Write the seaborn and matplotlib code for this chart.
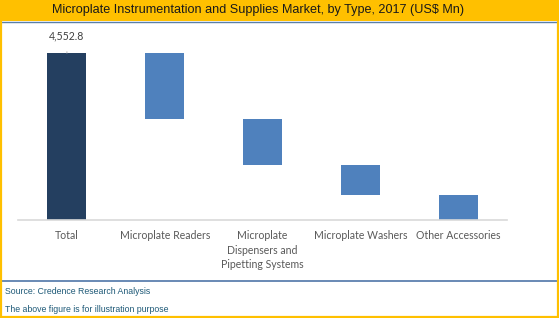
import matplotlib
matplotlib.use("Agg")
import matplotlib.pyplot as plt
from matplotlib.patches import Rectangle
from matplotlib.lines import Line2D
import seaborn as sns
import pandas as pd

# Market segments (US$ Mn, 2017)
categories = ["Total", "Microplate Readers",
              "Microplate\nDispensers and\nPipetting Systems",
              "Microplate Washers", "Other Accessories"]
segment_values = [4552.8, 1799.0, 1254.0, 818.0, 681.8]
total_label = "4,552.8"
bar_colors = ["#243F60", "#4F81BD", "#4F81BD", "#4F81BD", "#4F81BD"]

# Waterfall extents: the total runs from zero, each segment steps down from the running top
tops, bottoms = [segment_values[0]], [0.0]
running = segment_values[0]
for v in segment_values[1:]:
    tops.append(running)
    bottoms.append(running - v)
    running -= v

df = pd.DataFrame({"category": categories, "top": tops})

sns.set_theme(style="white")
plt.rcParams["font.family"] = ["Lato", "DejaVu Sans"]

W, H = 559, 318
fig = plt.figure(figsize=(W / 100, H / 100), dpi=100)
fig.patch.set_facecolor("white")

# Header band and frame
fig.patches.append(Rectangle((0, 1 - 21 / H), 1, 21 / H, transform=fig.transFigure,
                             facecolor="#FFC000", edgecolor="none", zorder=0))
fig.lines.append(Line2D([0, 1], [1 - 21.5 / H, 1 - 21.5 / H], transform=fig.transFigure,
                        color="#5A7FA8", lw=1.0))
fig.lines.append(Line2D([0, 1], [1 - 281 / H, 1 - 281 / H], transform=fig.transFigure,
                        color="#4F76A8", lw=1.2))
fig.patches.append(Rectangle((0.6 / W, 0.6 / H), 1 - 1.6 / W, 1 - 1.2 / H,
                             transform=fig.transFigure, facecolor="none",
                             edgecolor="#FFC000", lw=1.6, zorder=5))
fig.text(258.5 / W, 1 - 10.5 / H,
         "Microplate Instrumentation and Supplies Market, by Type, 2017 (US$ Mn)",
         ha="center", va="center", fontsize=9.05, color="#1A1A1A",
         family=["Liberation Sans", "DejaVu Sans"])
fig.text(5 / W, 1 - 292 / H, "Source: Credence Research Analysis",
         ha="left", va="center", fontsize=6.3, color="#1F5A78",
         family=["Liberation Sans", "DejaVu Sans"])
fig.text(5 / W, 1 - 309 / H, "The above figure is for illustration purpose",
         ha="left", va="center", fontsize=6.3, color="#1F5A78",
         family=["Liberation Sans", "DejaVu Sans"])

ax_top = 36.6
ax = fig.add_axes([18 / W, 1 - 220 / H, (507 - 18) / W, (220 - ax_top) / H])
sns.barplot(data=df, x="category", y="top", hue="category", palette=bar_colors,
            legend=False, width=0.4, ax=ax, saturation=1)
for patch, b, t in zip(ax.patches, bottoms, tops):
    patch.set_y(b)
    patch.set_height(t - b)
    patch.set_edgecolor("none")

ax.set_ylim(0, 5000)
ax.set_xlim(-0.5, 4.5)
ax.set_xlabel("")
ax.set_ylabel("")
ax.set_yticks([])
for s in ["top", "left", "right"]:
    ax.spines[s].set_visible(False)
ax.spines["bottom"].set_color("#D9D9D9")
ax.spines["bottom"].set_linewidth(1.2)
ax.tick_params(axis="x", length=0, pad=7, labelsize=7.6, labelcolor="#595959")
for lbl in ax.get_xticklabels():
    lbl.set_linespacing(1.42)
    lbl.set_verticalalignment("top")

ax.annotate(total_label, xy=(0, tops[0]), xytext=(0, 17), textcoords="offset pixels",
            ha="center", va="center", fontsize=7.6, color="#404040",
            arrowprops=dict(arrowstyle="-", color="#BFBFBF", lw=0.8,
                            shrinkA=5, shrinkB=1))

fig.savefig("out.png", dpi=100)
